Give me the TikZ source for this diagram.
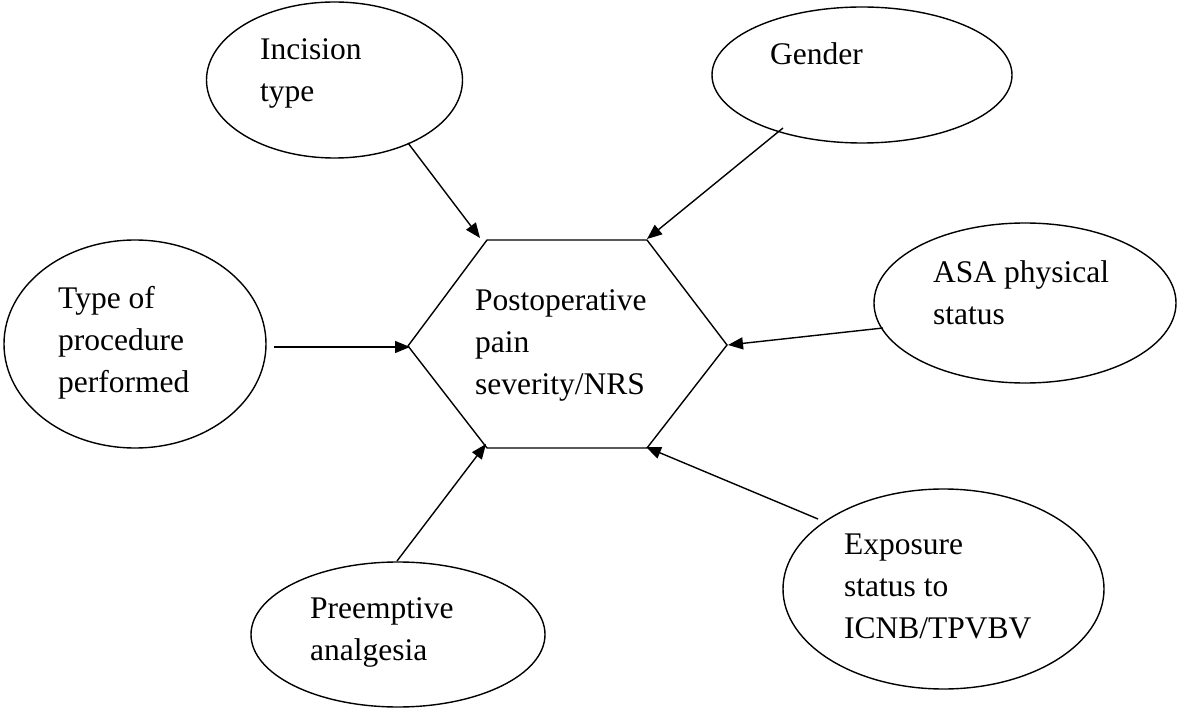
\documentclass[tikz,border=0pt]{standalone}
\usepackage{fontspec}
\setmainfont{Liberation Serif}
\usetikzlibrary{shapes.geometric,arrows.meta}
\tikzset{
  oval/.style={ellipse, draw, line width=1.4pt, inner sep=0pt},
  lbl/.style={anchor=base west, align=left, inner sep=0pt, font=\fontsize{31.5}{42}\selectfont},
  hexline/.style={line width=1.4pt, line join=miter},
  arr/.style={line width=1.4pt, -{Triangle[length=15pt,width=12pt]}}
}
\begin{document}
\begin{tikzpicture}[x=1pt,y=-1pt]
\useasboundingbox (0,0) rectangle (1178,708);
% ellipses
\node[oval, minimum width=256pt, minimum height=156pt] (inc) at (334.5,80) {};
\node[oval, minimum width=300pt, minimum height=136pt] (gen) at (862,75) {};
\node[oval, minimum width=262pt, minimum height=208pt] (proc) at (135,344) {};
\node[oval, minimum width=302pt, minimum height=160pt] (asa) at (1025,303) {};
\node[oval, minimum width=294pt, minimum height=145pt] (pre) at (398,634.5) {};
\node[oval, minimum width=321pt, minimum height=200pt] (exp) at (943.5,589) {};
% labels (anchor = baseline of last line)
\node[lbl] (tinc) at (260,102) {Incision\\type};
\node[lbl] (tgen) at (770,65) {Gender};
\node[lbl] (tproc) at (58,392) {Type of\\procedure\\performed};
\node[lbl] (tasa) at (933,325) {ASA physical\\status};
\node[lbl] (tpre) at (310,660) {Preemptive\\analgesia};
\node[lbl] (texp) at (844,638) {Exposure\\status to\\ICNB/TPVBV};
\node[lbl] (tpain) at (475,395) {Postoperative\\pain\\severity/NRS};
% hexagon
\coordinate (hTL) at (487,240);
\coordinate (hTR) at (647,240);
\coordinate (hR) at (727,345);
\coordinate (hBR) at (647,448);
\coordinate (hBL) at (487,448);
\coordinate (hL) at (408,346);
\draw[hexline] (hTL) -- (hTR) -- (hR) -- (hBR) -- (hBL) -- (hL) -- cycle;
% arrow start points
\coordinate (sinc) at (408,143);
\coordinate (sgen) at (783,128);
\coordinate (sasa) at (883,328);
\coordinate (sexp) at (818,519);
\coordinate (spre) at (397,561);
\coordinate (sproc) at (274,347);
% arrow end points
\coordinate (einc) at (480,238);
\coordinate (egen) at (647,239);
\coordinate (easa) at (728,345);
\coordinate (eexp) at (646,447);
\coordinate (epre) at (486,444);
\coordinate (eproc) at (410,347);
\draw[arr] (sinc) -- (einc);
\draw[arr] (sgen) -- (egen);
\draw[arr] (sasa) -- (easa);
\draw[arr] (sexp) -- (eexp);
\draw[arr] (spre) -- (epre);
\draw[arr] (sproc) -- (eproc);
\end{tikzpicture}
\end{document}
